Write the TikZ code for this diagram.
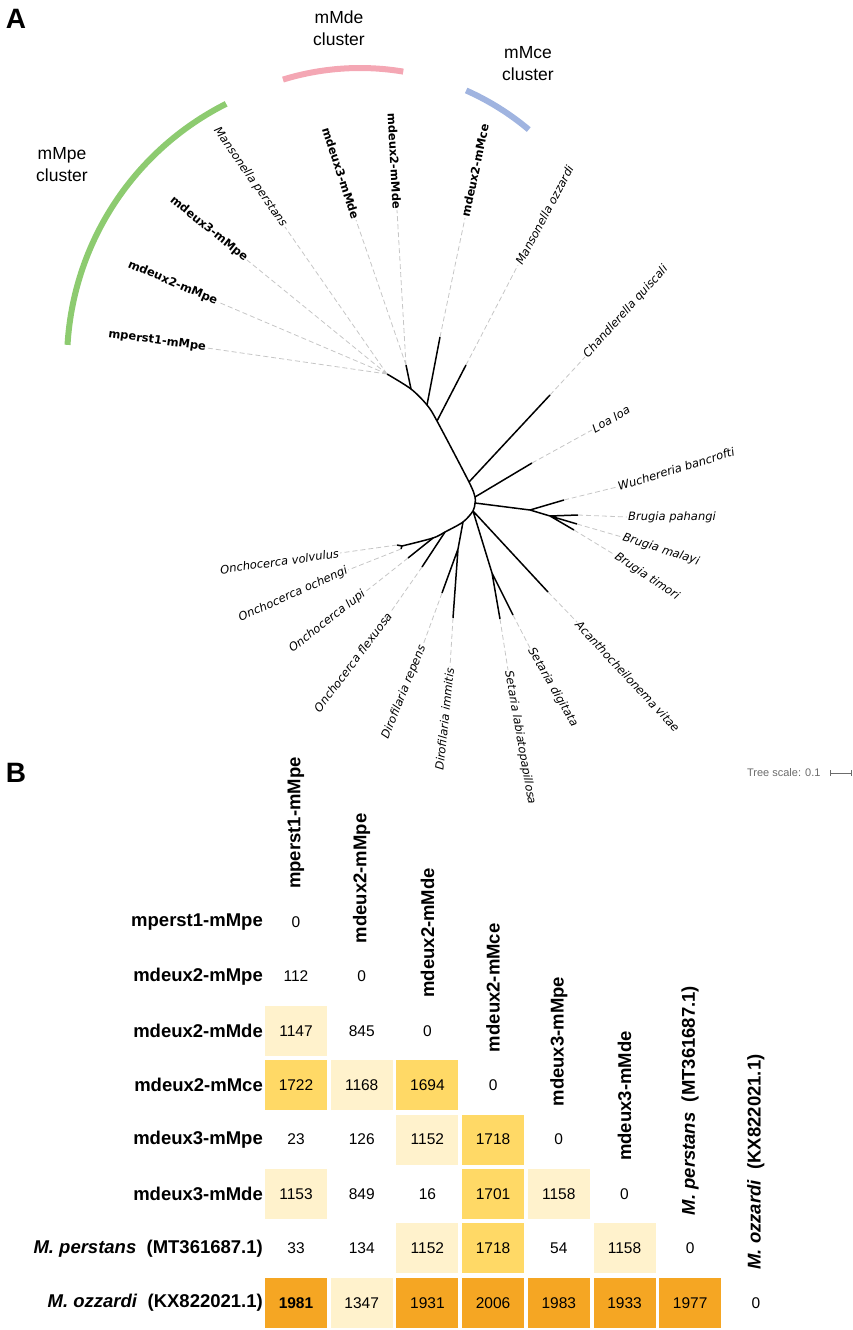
\documentclass[tikz,border=0pt]{standalone}
\usepackage{fontspec}
\setmainfont{Liberation Sans}
\newfontfamily\verd{DejaVu Sans}
\usetikzlibrary{positioning}
\definecolor{clGreen}{RGB}{141,203,112}
\definecolor{clPink}{RGB}{244,167,180}
\definecolor{clBlue}{RGB}{160,180,224}
\definecolor{cLight}{RGB}{255,242,204}
\definecolor{cMid}{RGB}{255,217,102}
\definecolor{cDark}{RGB}{245,166,35}
\tikzset{
	branch/.style={line width=1.5pt, black},
	leader/.style={line width=0.8pt, gray!45, dash pattern=on 5pt off 3pt},
	sp/.style={font=\verd\itshape\fontsize{11.5}{13}\selectfont, inner sep=1pt},
	iso/.style={font=\verd\bfseries\fontsize{11.5}{13}\selectfont, inner sep=1pt},
	clade/.style={line width=6pt},
	clu/.style={font=\fontsize{17.5}{22}\selectfont, align=center},
	hdr/.style={font=\bfseries\fontsize{18.5}{22}\selectfont, inner sep=0pt},
	cell/.style={minimum width=62pt, minimum height=50pt, inner sep=0pt, font=\fontsize{15.5}{18}\selectfont},
	cell n/.style={}, cell l/.style={fill=cLight}, cell m/.style={fill=cMid}, cell d/.style={fill=cDark},
	cell D/.style={fill=cDark, font=\bfseries\fontsize{15.5}{18}\selectfont}
}

\begin{document}
\begin{tikzpicture}[x=1pt, y=-1pt]
        \useasboundingbox (0,0) rectangle (852,1330);
        \node[font=\bfseries\fontsize{28}{30}\selectfont] (pA) at (16,19) {A};
        \node[font=\bfseries\fontsize{28}{30}\selectfont] (pB) at (16,773) {B};

        % clusters
        \draw[clade, clGreen] (356,362) ++(183.4:289) arc[start angle=183.4, end angle=243.3, radius=289];
        \draw[clade, clPink] (360,330) ++(252.9:262) arc[start angle=252.9, end angle=279.5, radius=262];
        \draw[clade, clBlue] (360,330) ++(293.9:262) arc[start angle=293.9, end angle=310.1, radius=262];
        \node[clu] (lPe) at (62,165) {mMpe\\cluster};
        \node[clu] (lDe) at (339,28) {mMde\\cluster};
        \node[clu] (lCe) at (528,64) {mMce\\cluster};

        % tree
        \coordinate (nPe) at (387,374);
        \coordinate (n1) at (411,389);
        \coordinate (tDe) at (406,365);
        \coordinate (n2) at (427,405);
        \coordinate (tCe) at (440,337);
        \coordinate (n3) at (437,421);
        \coordinate (tOz) at (466,365);
        \coordinate (n4) at (469,482);
        \coordinate (tCh) at (550,395);
        \coordinate (n5) at (475,497);
        \coordinate (tLo) at (532,463);
        \coordinate (n6) at (475,503);
        \coordinate (nW) at (530,510);
        \coordinate (tWu) at (564,500);
        \coordinate (nB) at (550,516);
        \coordinate (tBp) at (578,515);
        \coordinate (tBm) at (577,524);
        \coordinate (tBt) at (574,530);
        \coordinate (n7) at (473,511);
        \coordinate (tAc) at (548,592);
        \coordinate (nS) at (492,573);
        \coordinate (tSd) at (513,615);
        \coordinate (tSl) at (500,619);
        \coordinate (n8) at (463,522);
        \coordinate (nD) at (458,549);
        \coordinate (tDi) at (453,618);
        \coordinate (tDr) at (442,593);
        \coordinate (n9) at (445,532);
        \coordinate (tOf) at (422,567);
        \coordinate (n10) at (433,538);
        \coordinate (tOl) at (408,558);
        \coordinate (nOv) at (402,546);
        \coordinate (tOv) at (397,545);
        \coordinate (tOo) at (401,549);

        \draw[branch] plot[smooth, tension=0.5] coordinates {(nPe) (n1) (n2) (n3) (n4) (n5) (n6) (n7) (n8) (n9) (n10) (nOv)};
        \draw[branch] (n1) -- (tDe) (n2) -- (tCe) (n3) -- (tOz) (n4) -- (tCh) (n5) -- (tLo);
        \draw[branch] (n6) -- (nW) -- (nB) -- (tBp) (nW) -- (tWu) (nB) -- (tBm) (nB) -- (tBt);
        \draw[branch] (n7) -- (tAc) (n7) -- (nS) -- (tSd) (nS) -- (tSl);
        \draw[branch] (n8) -- (nD) -- (tDi) (nD) -- (tDr);
        \draw[branch] (n9) -- (tOf) (n10) -- (tOl) (nOv) -- (tOv) (nOv) -- (tOo);

        % leaf labels
        \node[iso, anchor=east, rotate=-8] (lMp1) at (207,348) {mperst1-mMpe};
        \node[iso, anchor=east, rotate=-23] (lD2p) at (218,302) {mdeux2-mMpe};
        \node[iso, anchor=east, rotate=-39] (lD3p) at (247,260) {mdeux3-mMpe};
        \node[sp, anchor=east, rotate=-55] (lPer) at (285,227) {Mansonella perstans};
        \node[iso, anchor=east, rotate=-72] (lD3d) at (356,220) {mdeux3-mMde};
        \node[iso, anchor=east, rotate=-87] (lD2d) at (397,210) {mdeux2-mMde};
        \node[iso, anchor=west, rotate=78] (lD2c) at (465,218) {mdeux2-mMce};
        \node[sp, anchor=west, rotate=62] (lOzz) at (518,265) {Mansonella ozzardi};
        \node[sp, anchor=west, rotate=48] (lCha) at (585,357) {Chandlerella quiscali};
        \node[sp, anchor=west, rotate=30] (lLoa) at (592,430) {Loa loa};
        \node[sp, anchor=west, rotate=17] (lWuc) at (617,487) {Wuchereria bancrofti};
        \node[sp, anchor=west, rotate=0] (lBpa) at (627,517) {Brugia pahangi};
        \node[sp, anchor=west, rotate=-18] (lBma) at (622,537) {Brugia malayi};
        \node[sp, anchor=west, rotate=-34] (lBti) at (615,555) {Brugia timori};
        \node[sp, anchor=west, rotate=-47] (lAca) at (577,622) {Acanthocheilonema vitae};
        \node[sp, anchor=west, rotate=-60] (lSdi) at (530,648) {Setaria digitata};
        \node[sp, anchor=west, rotate=-80] (lSla) at (508,670) {Setaria labiatopapillosa};
        \node[sp, anchor=east, rotate=84] (lDim) at (450,667) {Dirofilaria immitis};
        \node[sp, anchor=east, rotate=68] (lDre) at (423,645) {Dirofilaria repens};
        \node[sp, anchor=east, rotate=53] (lOfl) at (390,613) {Onchocerca flexuosa};
        \node[sp, anchor=east, rotate=38] (lOlu) at (365,592) {Onchocerca lupi};
        \node[sp, anchor=east, rotate=24] (lOoc) at (348,570) {Onchocerca ochengi};
        \node[sp, anchor=east, rotate=8] (lOvo) at (340,553) {Onchocerca volvulus};

        \draw[leader] (nPe) -- (lMp1.east) (nPe) -- (lD2p.east) (nPe) -- (lD3p.east) (nPe) -- (lPer.east);
        \draw[leader] (tDe) -- (lD3d.east) (tDe) -- (lD2d.east) (tCe) -- (lD2c.west) (tOz) -- (lOzz.west);
        \draw[leader] (tCh) -- (lCha.west) (tLo) -- (lLoa.west) (tWu) -- (lWuc.west);
        \draw[leader] (tBp) -- (lBpa.west) (tBm) -- (lBma.west) (tBt) -- (lBti.west);
        \draw[leader] (tAc) -- (lAca.west) (tSd) -- (lSdi.west) (tSl) -- (lSla.west);
        \draw[leader] (tDi) -- (lDim.east) (tDr) -- (lDre.east) (tOf) -- (lOfl.east);
        \draw[leader] (tOl) -- (lOlu.east) (tOo) -- (lOoc.east) (tOv) -- (lOvo.east);

        % scale
        \node[font=\fontsize{11}{13}\selectfont, text=gray!85!black, anchor=east] (ts) at (824,773) {Tree scale: 0.1};
        \coordinate (sb0) at (830,773);
        \coordinate (sb1) at (851,773);
        \draw[gray!85!black, line width=0.7pt] (sb0) -- (sb1) (sb0) ++(0,-3) -- ++(0,6) (sb1) ++(0,-3) -- ++(0,6);

        % distance matrix
        \foreach \nm [count=\r] in {mperst1-mMpe, mdeux2-mMpe, mdeux2-mMde, mdeux2-mMce, mdeux3-mMpe, mdeux3-mMde,
                {\textit{M. perstans}\ \ (MT361687.1)}, {\textit{M. ozzardi}\ \ (KX822021.1)}}{
            \node[hdr, anchor=east] (r\r) at (263, {922+54.4*(\r-1)}) {\nm};
            \node[hdr, anchor=west, rotate=90] (h\r) at ({296+65.7*(\r-1)}, {889+54.4*(\r-1)}) {\nm};
        }
        \foreach \cells [count=\r] in {{0/n}, {112/n,0/n}, {1147/l,845/n,0/n}, {1722/m,1168/l,1694/m,0/n},
                {23/n,126/n,1152/l,1718/m,0/n}, {1153/l,849/n,16/n,1701/m,1158/l,0/n},
                {33/n,134/n,1152/l,1718/m,54/n,1158/l,0/n}, {1981/D,1347/l,1931/d,2006/d,1983/d,1933/d,1977/d,0/n}}{
            \foreach \v/\s [count=\c] in \cells {
                \node[cell, cell \s] (c\r-\c) at ({296+65.7*(\c-1)}, {922+54.4*(\r-1)}) {\v};
            }
        }
    \end{tikzpicture}
\end{document}
